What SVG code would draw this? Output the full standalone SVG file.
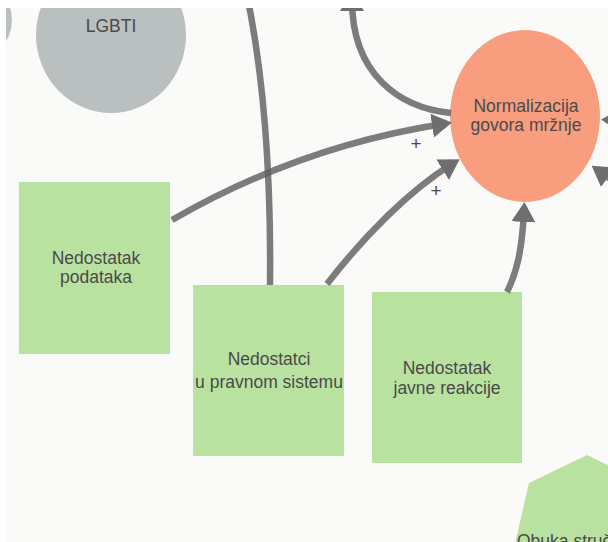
<svg xmlns="http://www.w3.org/2000/svg" width="608" height="542" viewBox="0 0 608 542">
<defs>
<style>
.bg{fill:#fafaf8}
.box{fill:#b9e2a0}
.gray{fill:#bac0c0}
.red{fill:#f89e7e}
.t{font-family:"Liberation Sans",Arial,sans-serif;font-size:17.5px;fill:#4a4a4a;text-anchor:middle}
.c{fill:none;stroke:#5c5c5c;stroke-opacity:0.8;stroke-width:6.5}
.a{marker-end:url(#ah)}
.plus{font-family:"Liberation Sans",Arial,sans-serif;font-size:19px;fill:#4a4a4a;text-anchor:middle}
</style>
<marker id="ah" viewBox="0 0 20 24" refX="11" refY="12" markerWidth="20" markerHeight="24" markerUnits="userSpaceOnUse" orient="auto">
<path d="M0,0 L20,12 L0,24 z" fill="#6e6e6e"/>
</marker>
</defs>
<rect class="bg" x="0" y="0" width="608" height="542"/>
<g id="node-left-partial"><ellipse class="gray" cx="-30" cy="20" rx="42" ry="42"/></g>
<g id="node-lgbti">
<ellipse class="gray" cx="111" cy="35" rx="75" ry="78"/>
<text class="t" x="111" y="32">LGBTI</text>
</g>
<g id="node-normalizacija">
<ellipse class="red" cx="525" cy="116" rx="75" ry="86"/>
<text class="t" x="526" y="112">Normalizacija</text>
<text class="t" x="526" y="131">govora mržnje</text>
</g>
<g id="node-podataka">
<rect class="box" x="19" y="182" width="151" height="172"/>
<text class="t" x="96" y="264">Nedostatak</text>
<text class="t" x="96" y="283">podataka</text>
</g>
<g id="node-pravnom">
<rect class="box" x="193" y="285" width="151" height="171"/>
<text class="t" x="269" y="365">Nedostatci</text>
<text class="t" x="269" y="388">u pravnom sistemu</text>
</g>
<g id="node-javne">
<rect class="box" x="372" y="292" width="150" height="171"/>
<text class="t" x="447" y="374">Nedostatak</text>
<text class="t" x="447" y="394">javne reakcije</text>
</g>
<g id="node-obuka">
<polygon class="box" points="587,455 645,483 660,548 620,600 554,600 514,548 529,483"/>
<text class="t" x="517" y="547" style="text-anchor:start">Obuka struč</text>
</g>
<g id="connectors">
<path class="c" d="M270,285 C271,190 266,90 248,0"/>
<path class="c a" d="M172,220 C250,175 340,140 443,124"/>
<path class="c a" d="M327,284 C365,235 410,190 452,164"/>
<path class="c a" d="M507,292 C517,272 522,250 524,211"/>
<path class="c a" d="M451,113 C400,108 352,75 352,0"/>
<path class="c a" d="M640,122 L610,120"/>
<path class="c a" d="M640,200 L599,171"/>
<text class="plus" x="416" y="150">+</text>
<text class="plus" x="436" y="197">+</text>
</g>
<rect x="0" y="0" width="608" height="8" fill="#ffffff"/>
<rect x="0" y="0" width="6" height="542" fill="#ffffff"/>
</svg>
